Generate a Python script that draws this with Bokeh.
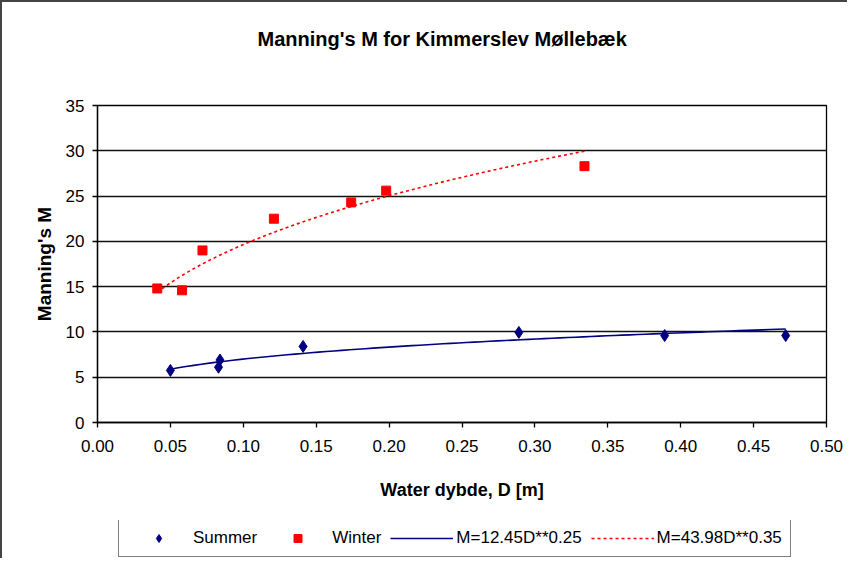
import numpy as np
from bokeh.plotting import figure
from bokeh.layouts import column
from bokeh.models import (Range1d, FixedTicker, PrintfTickFormatter, Legend, LegendItem, Title)
from bokeh.embed import file_html
from bokeh.resources import INLINE

# ---- data ----
summer_depth = [0.050, 0.083, 0.084, 0.141, 0.289, 0.389, 0.472]
summer_m = [5.75, 6.1, 6.9, 8.4, 9.95, 9.6, 9.6]
winter_depth = [0.041, 0.058, 0.072, 0.121, 0.174, 0.198, 0.334]
winter_m = [14.8, 14.6, 19.0, 22.5, 24.3, 25.6, 28.3]

# power-law trend lines as given in the legend: M = a * D**b
summer_coef, summer_exp = 12.45, 0.25
winter_coef, winter_exp = 43.98, 0.35

x_ticks = [0.0, 0.05, 0.10, 0.15, 0.20, 0.25, 0.30, 0.35, 0.40, 0.45, 0.50]
y_ticks = [0, 5, 10, 15, 20, 25, 30, 35]

title_text = "Manning's M  for Kimmerslev M\u00f8llebæk"
x_label = "Water dybde, D [m]"
y_label = "Manning's M"
labels = ["Summer", "Winter", "M=12.45D**0.25", "M=43.98D**0.35"]

FONT = "Liberation Sans"
NAVY = "#000080"
RED = "#FF0000"

sx = np.linspace(min(summer_depth), max(summer_depth), 80)
wx = np.linspace(min(winter_depth), max(winter_depth), 80)
s_fit = summer_coef * sx ** summer_exp
w_fit = winter_coef * wx ** winter_exp


def blank_strip(height, border_top):
    f = figure(width=845, height=height, output_backend="svg", toolbar_location=None,
               x_range=Range1d(0, 0.5), y_range=Range1d(-100, -99),
               x_axis_type=None, y_axis_type=None,
               min_border_left=95, min_border_right=21, min_border_top=border_top,
               min_border_bottom=0)
    f.outline_line_color = None
    f.xgrid.grid_line_color = None
    f.ygrid.grid_line_color = None
    f.border_fill_color = "white"
    return f


# ---- title strip ----
top = blank_strip(60, 47)
top.title = Title(text=title_text, align="left", text_font=FONT, text_font_size="20px",
                  text_font_style="bold", text_color="#000000", standoff=0, offset=160)

# ---- main chart ----
p = figure(width=845, height=458, output_backend="svg", toolbar_location=None,
           x_range=Range1d(0, 0.5), y_range=Range1d(0, 35),
           min_border_left=95, min_border_right=21, min_border_top=43,
           min_border_bottom=98)

p.outline_line_color = "#000000"
p.outline_line_width = 1.3
p.background_fill_color = "white"
p.border_fill_color = "white"

p.xgrid.grid_line_color = None
p.ygrid.grid_line_color = "#111111"
p.ygrid.grid_line_width = 1.3
p.ygrid.ticker = FixedTicker(ticks=y_ticks)

for ax in (p.xaxis[0], p.yaxis[0]):
    ax.axis_line_color = "#000000"
    ax.axis_line_width = 1.3
    ax.major_tick_line_color = "#000000"
    ax.major_tick_line_width = 1.3
    ax.major_tick_in = 0
    ax.major_tick_out = 5
    ax.minor_tick_line_color = None
    ax.major_label_text_font = FONT
    ax.major_label_text_font_size = "17px"
    ax.major_label_text_color = "#000000"
    ax.axis_label_text_font = FONT
    ax.axis_label_text_font_style = "bold"
    ax.axis_label_text_color = "#000000"

p.xaxis[0].ticker = FixedTicker(ticks=x_ticks)
p.xaxis[0].formatter = PrintfTickFormatter(format="%.2f")
p.xaxis[0].axis_label = x_label
p.xaxis[0].axis_label_text_font_size = "18px"
p.xaxis[0].major_label_standoff = 12
p.xaxis[0].axis_label_standoff = 25

p.yaxis[0].ticker = FixedTicker(ticks=y_ticks)
p.yaxis[0].axis_label = y_label
p.yaxis[0].axis_label_text_font_size = "19px"
p.yaxis[0].major_label_standoff = 8
p.yaxis[0].axis_label_standoff = 8

p.line(sx, s_fit, line_color=NAVY, line_width=1.6)
p.line(wx, w_fit, line_color=RED, line_width=1.6, line_dash="3 3")
p.scatter(summer_depth, summer_m, marker="diamond", size=12, fill_color=NAVY, line_color=NAVY)
p.scatter(winter_depth, winter_m, marker="square", size=9, fill_color=RED, line_color=RED)

# ---- legend strip (same series, drawn out of view; only their legend glyphs show) ----
lg = blank_strip(38, 0)
l_summer = lg.scatter(summer_depth, summer_m, marker="diamond", size=12,
                      fill_color=NAVY, line_color=NAVY)
l_winter = lg.scatter(winter_depth, winter_m, marker="square", size=9,
                      fill_color=RED, line_color=RED)
l_strend = lg.line(sx, s_fit, line_color=NAVY, line_width=1.6)
l_wtrend = lg.line(wx, w_fit, line_color=RED, line_width=1.6, line_dash="3 3")

legend = Legend(items=[
    LegendItem(label=labels[0], renderers=[l_summer]),
    LegendItem(label=labels[1], renderers=[l_winter]),
    LegendItem(label=labels[2], renderers=[l_strend]),
    LegendItem(label=labels[3], renderers=[l_wtrend]),
], orientation="horizontal", location=(21, 1))
legend.label_text_font = FONT
legend.label_text_font_size = "17px"
legend.label_text_color = "#000000"
legend.glyph_width = 63
legend.glyph_height = 20
legend.label_standoff = 3
legend.spacing = 9
legend.padding = 8
legend.margin = 0
legend.border_line_color = "#000000"
legend.border_line_width = 1.5
legend.background_fill_color = "white"
legend.background_fill_alpha = 1.0
lg.add_layout(legend, "center")

layout = column(top, p, lg, spacing=0)
layout.styles = {"border-left": "2px solid #444444", "border-top": "2px solid #444444"}

open("out.html", "w").write(file_html(layout, INLINE))
